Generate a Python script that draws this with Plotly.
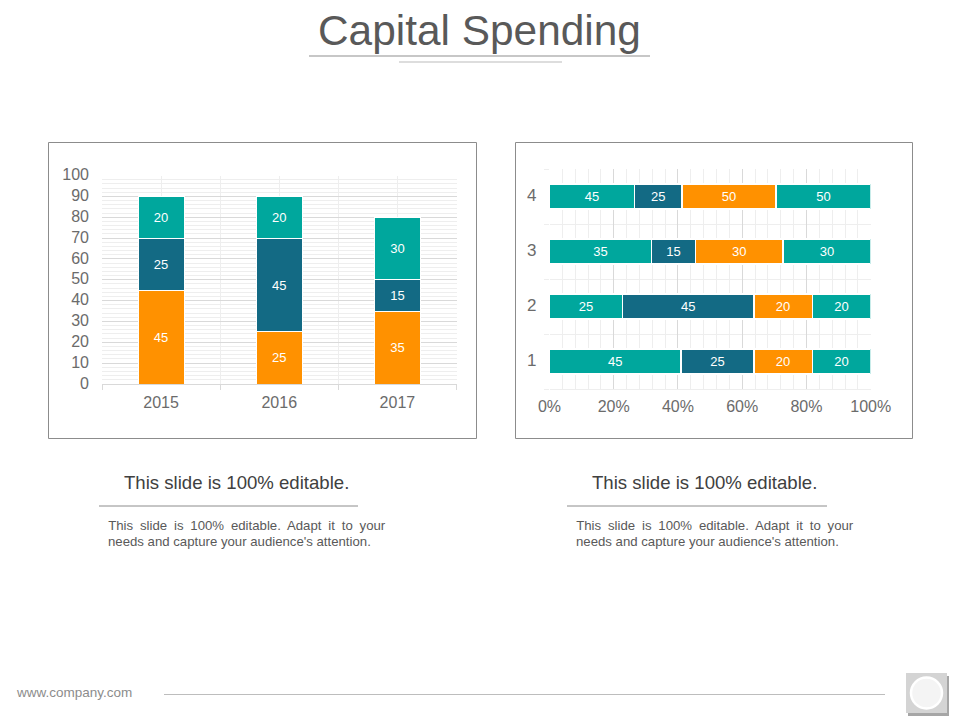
import plotly.graph_objects as go

# Left chart
years = [2015, 2016, 2017]
year_labels = ["2015", "2016", "2017"]
orange_left = [45, 25, 35]
blue_left = [25, 45, 15]
teal_left = [20, 20, 30]

# Right chart
rows = [1, 2, 3, 4]
row_labels = ["1", "2", "3", "4"]
teal_a = [45, 25, 35, 45]
blue_right = [25, 45, 15, 25]
orange_right = [20, 20, 30, 50]
teal_b = [20, 20, 30, 50]

y_ticks = [0, 10, 20, 30, 40, 50, 60, 70, 80, 90, 100]
pct_ticks = [0, 20, 40, 60, 80, 100]
pct_labels = ["0%", "20%", "40%", "60%", "80%", "100%"]

title_text = "Capital Spending"
caption_head = "This slide is 100% editable."
caption_line1 = "This slide is 100% editable. Adapt it to your"
caption_line2 = "needs and capture your audience's attention."
footer_text = "www.company.com"

TEAL, BLUE, ORANGE = "#00A79D", "#136A84", "#FF9100"
TXT, MAJOR, MINOR = "#6b6b6b", "#d9d9d9", "#eeeeee"
W, H = 960, 720


def px(x):
    return x / W


def py(y):
    return 1 - y / H


fig = go.Figure()

for vals, col in [(orange_left, ORANGE), (blue_left, BLUE), (teal_left, TEAL)]:
    fig.add_trace(go.Bar(
        x=years, y=vals, width=0.39, marker=dict(color=col, line=dict(color="white", width=1)),
        text=vals, textposition="inside", insidetextanchor="middle", textangle=0,
        textfont=dict(color="white", size=13), xaxis="x", yaxis="y", showlegend=False,
    ))

# The right chart is a 100% stack: lengths are each value's share of its row,
# labels stay the raw values.
row_totals = [a + b + c + d for a, b, c, d in zip(teal_a, blue_right, orange_right, teal_b)]
for vals, col in [(teal_a, TEAL), (blue_right, BLUE), (orange_right, ORANGE), (teal_b, TEAL)]:
    fig.add_trace(go.Bar(
        y=rows, x=[100 * v / t for v, t in zip(vals, row_totals)], orientation="h", width=0.46,
        marker=dict(color=col, line=dict(color="white", width=1.5)),
        text=vals, textposition="inside", insidetextanchor="middle", textangle=0,
        textfont=dict(color="white", size=13), xaxis="x2", yaxis="y2", showlegend=False,
    ))


def frame(x0, y0, x1, y1, line=None, fill=None, layer="below"):
    return dict(type="rect", xref="paper", yref="paper", x0=px(x0), x1=px(x1), y0=py(y0), y1=py(y1),
                line=line or dict(width=0), fillcolor=fill, layer=layer)


def hline(x0, x1, y, color, width=1):
    return dict(type="line", xref="paper", yref="paper", x0=px(x0), x1=px(x1), y0=py(y), y1=py(y),
                line=dict(color=color, width=width), layer="below")


shapes = [
    frame(48.5, 142.5, 476.5, 438.5, line=dict(color="#8c8c8c", width=1)),
    frame(515.5, 142.5, 912.5, 438.5, line=dict(color="#8c8c8c", width=1)),
    hline(309, 650, 56, "#b5b5b5", 1.5),
    hline(399, 562, 62, "#d2d2d2", 1.5),
    hline(99, 358, 506, "#8c8c8c", 1),
    hline(567, 827, 506, "#8c8c8c", 1),
    hline(164, 885, 694.5, "#bdbdbd", 1),
    frame(908, 676, 949, 716, fill="#a6a6a6"),
    frame(906, 673, 947, 713, fill="#d4d4d4"),
    dict(type="circle", xref="paper", yref="paper", x0=px(911), x1=px(942), y0=py(708.5), y1=py(677.5),
         line=dict(color="white", width=2.5), fillcolor="#f4f4f4", layer="below"),
]


def note(x, y, text, size, color="#555555", anchor="center"):
    return dict(xref="paper", yref="paper", x=px(x), y=py(y), text=text, showarrow=False,
                xanchor=anchor, yanchor="middle", font=dict(size=size, color=color),
                borderpad=0, borderwidth=0)


annotations = [
    note(479.5, 31, title_text, 42.4, "#595959"),
    note(236.5, 483, caption_head, 18.6, "#404040"),
    note(704.5, 483, caption_head, 18.6, "#404040"),
    # first body line is justified in the reference: centred here, widened by word spacing below
    note(247, 525, caption_line1, 13.2, "#595959"),
    note(108, 541, caption_line2, 13.2, "#595959", "left"),
    note(715, 525, caption_line1, 13.2, "#595959"),
    note(576, 541, caption_line2, 13.2, "#595959", "left"),
    note(16, 692, footer_text, 13.5, "#8c8c8c", "left"),
]

fig.update_layout(
    width=W, height=H, autosize=False, margin=dict(l=0, r=0, t=0, b=0, pad=0, autoexpand=False),
    paper_bgcolor="white", plot_bgcolor="white", barmode="stack",
    font=dict(family="Liberation Sans, Arial, sans-serif", color=TXT),
    shapes=shapes, annotations=annotations,
    xaxis=dict(
        domain=[px(102), px(456.5)], anchor="y", range=[years[0] - 0.5, years[-1] + 0.5], tickmode="array",
        tickvals=years, ticktext=year_labels, ticks="", showline=True, linecolor=MAJOR,
        showgrid=True, gridcolor=MINOR, tickfont=dict(size=16, color=TXT), ticklabelstandoff=4, zeroline=False,
        minor=dict(tick0=years[0] - 0.5, dtick=1, ticks="outside", ticklen=5, tickcolor=MAJOR, showgrid=True, gridcolor=MINOR),
    ),
    yaxis=dict(
        domain=[py(384), py(175.6)], anchor="x", range=[0, 100], tickmode="array", tickvals=y_ticks,
        showgrid=True, gridcolor=MAJOR, ticks="", zeroline=False, tickfont=dict(size=16, color=TXT),
        ticklabelstandoff=12, ticklabelshift=-1,
        minor=dict(dtick=2, tick0=0, showgrid=True, gridcolor=MINOR, ticks=""),
    ),
    xaxis2=dict(
        domain=[px(549.5), px(870.7)], anchor="y2", range=[0, 100], tickmode="array", tickvals=pct_ticks,
        ticktext=pct_labels, showgrid=True, gridcolor=MAJOR, ticks="", zeroline=False, showline=True,
        linecolor=MINOR, tickfont=dict(size=16, color=TXT), ticklabelstandoff=3,
        minor=dict(dtick=4, tick0=0, showgrid=True, gridcolor=MINOR, ticks=""),
    ),
    yaxis2=dict(
        domain=[py(389), py(169)], anchor="x2", range=[0.5, 4.5], tickmode="array", tickvals=rows,
        ticktext=row_labels, showgrid=False, ticks="", zeroline=False, showline=False,
        tickfont=dict(size=17, color=TXT), ticklabelstandoff=12, ticklabelshift=-1,
        minor=dict(tick0=0.5, dtick=1, ticks="outside", ticklen=5, tickcolor=MINOR, showgrid=True, gridcolor=MINOR),
    ),
)

post = """
document.body.style.margin='0';
document.body.style.overflow='hidden';
document.querySelectorAll('.annotation-text').forEach(function(t){
  if(t.textContent.indexOf('Adapt it to your')>=0){ t.style.wordSpacing='3.2px'; }
});
"""
fig.write_html("out.html", config=dict(displayModeBar=False), post_script=post)
